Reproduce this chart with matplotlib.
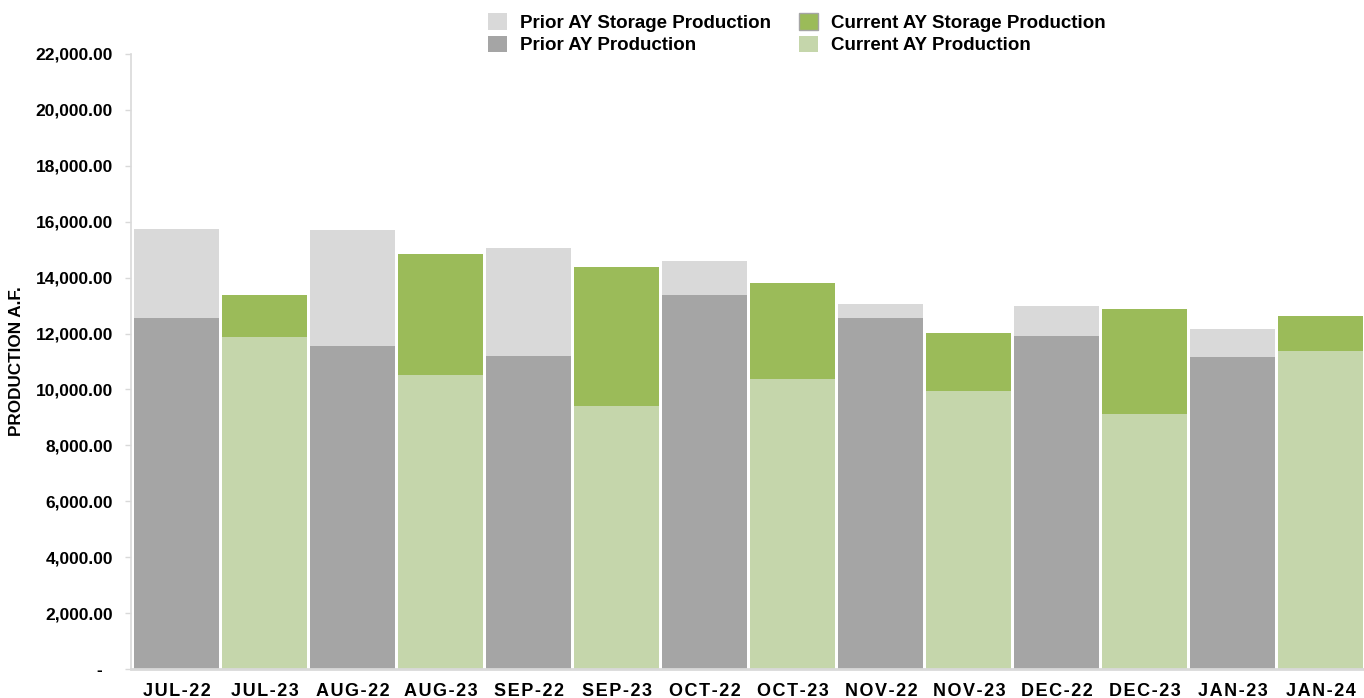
import matplotlib
matplotlib.use("Agg")
import matplotlib.pyplot as plt
from matplotlib.patches import Patch
from matplotlib.ticker import FuncFormatter, MultipleLocator

plt.rcParams['font.family'] = ['Liberation Sans', 'DejaVu Sans']
plt.rcParams['font.weight'] = 'bold'

# ---- DATA
months = ['JUL-22', 'JUL-23', 'AUG-22', 'AUG-23', 'SEP-22', 'SEP-23', 'OCT-22',
          'OCT-23', 'NOV-22', 'NOV-23', 'DEC-22', 'DEC-23', 'JAN-23', 'JAN-24']
period = ['prior', 'current'] * 7
production = [12570, 11860, 11550, 10520, 11210, 9420, 13390,
              10370, 12570, 9930, 11930, 9120, 11170, 11370]
storage = [3170, 1530, 4160, 4330, 3840, 4950, 1220,
           3450, 500, 2080, 1070, 3770, 1010, 1270]

colors = {
    'prior': ('#A5A5A5', '#D9D9D9'),      # production, storage
    'current': ('#C5D6AB', '#9BBB59'),
}

fig = plt.figure(figsize=(13.64, 6.98), dpi=100)
ax = fig.add_axes([131 / 1364, 29 / 698, 1 - 131 / 1364, (669 - 54) / 698])

x = list(range(len(months)))
base_cols = [colors[p][0] for p in period]
top_cols = [colors[p][1] for p in period]
ax.bar(x, production, width=0.965, color=base_cols, linewidth=0)
ax.bar(x, storage, width=0.965, bottom=production, color=top_cols, linewidth=0)

ax.set_xlim(-0.52, 13.49)
ax.set_ylim(0, 22000)
ax.yaxis.set_major_locator(MultipleLocator(2000))
ax.yaxis.set_major_formatter(FuncFormatter(lambda v, p: '-  ' if v == 0 else '{:,.2f}'.format(v)))

ax.set_xticks(x)
ax.set_xticklabels(['\u200a'.join(m) for m in months])
ax.tick_params(axis='x', length=0, pad=10, labelsize=13)
ax.tick_params(axis='y', length=4, width=1, color='#D9D9D9', pad=9, labelsize=12.5)

for s in ['top', 'right']:
    ax.spines[s].set_visible(False)
ax.spines['left'].set_color('#D9D9D9')
ax.spines['left'].set_linewidth(1.2)
ax.spines['bottom'].set_color('#D9D9D9')
ax.spines['bottom'].set_linewidth(2)

fig.text(17 / 1364, (698 - 361) / 698, 'PRODUCTION A.F.', rotation=90,
         ha='center', va='center', fontsize=12.3, fontweight='bold')

handles = [
    Patch(facecolor='#D9D9D9', edgecolor='none'),
    Patch(facecolor='#A5A5A5', edgecolor='none'),
    Patch(facecolor='#9BBB59', edgecolor='#A5A5A5', linewidth=1),
    Patch(facecolor='#C5D6AB', edgecolor='none'),
]
labels = ['Prior AY Storage Production', 'Prior AY Production',
          'Current AY Storage Production', 'Current AY Production']
fig.legend(handles, labels, ncol=2, loc='upper center',
           bbox_to_anchor=(797 / 1364, 1.0), frameon=False,
           prop={'size': 13.5, 'weight': 'bold'}, handlelength=1.0,
           handleheight=1.0, handletextpad=0.7, columnspacing=1.5,
           labelspacing=0.2, borderaxespad=0.3)

fig.savefig('out.png', dpi=100)
